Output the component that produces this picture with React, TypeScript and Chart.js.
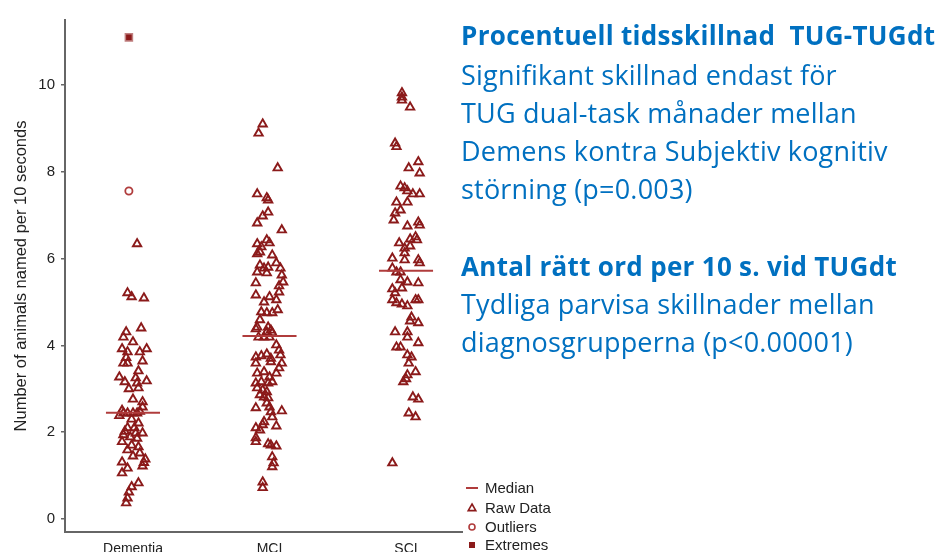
import { useEffect, useRef } from "react";
import { Chart, registerables } from "chart.js";

Chart.register(...registerables);

const categories = ["Dementia", "MCI", "SCI"];
const yTickValues = [0, 2, 4, 6, 8, 10];
const medians = [2.45, 4.22, 5.72];

const dementiaValues = [6.34, 5.21, 5.12, 5.09, 4.4, 4.31, 4.19, 4.08, 3.92, 3.85, 3.85, 3.92, 3.59, 3.59, 3.64, 3.41, 3.27, 3.16, 3.18, 3.25, 3.0, 3.02, 3.13, 2.76, 2.7, 2.58, 2.5, 2.44, 2.44, 2.44, 2.44, 2.48, 2.38, 2.21, 2.1, 2.1, 1.98, 1.94, 1.89, 1.86, 1.78, 1.7, 1.66, 1.59, 1.52, 1.45, 1.38, 1.31, 1.22, 1.17, 1.06, 0.83, 0.74, 0.62, 0.48, 0.37, 2.02, 1.98, 2.3, 3.72, 1.3];
const dementiaJitter = [0.03, -0.04, -0.01, 0.08, 0.06, -0.05, -0.07, 0, -0.08, -0.04, 0.05, 0.1, -0.07, -0.04, 0.07, 0.04, -0.1, -0.06, 0.1, 0.02, -0.03, 0.04, 0.03, 0, 0.07, 0.07, -0.08, -0.07, -0.04, 0, 0.03, 0.05, -0.1, 0.04, -0.04, 0.01, 0.07, -0.07, -0.02, 0.03, -0.08, -0.01, 0.04, -0.04, 0.05, 0, 0.09, -0.08, 0.07, -0.04, -0.08, 0.04, -0.01, -0.03, -0.04, -0.05, -0.06, 0.02, -0.01, -0.05, 0.08];

const mciValues = [9.1, 8.89, 8.09, 7.49, 7.4, 7.35, 7.07, 6.98, 6.82, 6.66, 6.43, 6.34, 6.36, 6.27, 6.15, 6.11, 6.08, 5.9, 5.85, 5.78, 5.8, 5.78, 5.69, 5.67, 5.62, 5.46, 5.44, 5.37, 5.23, 5.16, 5.12, 5.05, 5.0, 4.77, 4.75, 4.75, 4.82, 4.59, 4.42, 4.42, 4.35, 4.29, 4.38, 4.31, 4.19, 4.19, 4.19, 4.01, 3.89, 3.78, 3.73, 3.76, 3.8, 3.7, 3.59, 3.62, 3.59, 3.48, 3.36, 3.36, 3.39, 3.27, 3.13, 3.16, 3.13, 3.16, 3.02, 2.97, 2.93, 2.86, 2.81, 2.79, 2.67, 2.58, 2.47, 2.56, 2.49, 2.35, 2.24, 2.17, 2.14, 2.1, 2.05, 1.87, 1.78, 1.73, 1.7, 1.68, 1.43, 1.29, 1.2, 0.85, 0.72];
const mciJitter = [-0.05, -0.08, 0.06, -0.09, -0.02, -0.01, -0.01, -0.05, -0.09, 0.09, -0.02, -0.09, 0, -0.06, -0.07, -0.09, 0.02, 0.05, -0.07, -0.04, -0.01, 0.08, -0.09, -0.02, 0.09, 0.1, -0.1, 0.07, 0.07, -0.1, 0, 0.05, -0.04, -0.06, -0.02, 0.02, 0.06, -0.07, -0.09, -0.01, 0.01, 0.02, -0.1, -0.02, -0.08, -0.04, 0, 0.05, 0.07, 0.08, -0.1, -0.06, -0.02, 0.01, -0.1, 0.01, 0.09, 0.07, 0.05, -0.09, -0.04, 0, -0.1, -0.06, -0.01, 0.02, -0.09, -0.05, -0.02, -0.07, -0.04, -0.01, -0.02, 0, 0.01, -0.1, 0.09, 0.02, -0.04, -0.05, 0.05, -0.1, -0.07, -0.1, -0.1, -0.01, 0.01, 0.05, 0.02, 0.03, 0.02, -0.05, -0.05];

const sciValues = [9.82, 9.72, 9.65, 9.49, 8.66, 8.58, 8.23, 8.09, 7.97, 7.67, 7.63, 7.56, 7.49, 7.49, 7.3, 7.3, 7.12, 7.05, 6.89, 6.84, 6.77, 6.75, 6.5, 6.43, 6.45, 6.36, 6.24, 6.29, 6.13, 6.01, 5.97, 5.97, 5.9, 5.78, 5.69, 5.69, 5.51, 5.46, 5.44, 5.3, 5.32, 5.21, 5.05, 4.98, 4.95, 4.91, 5.05, 5.05, 4.65, 4.56, 4.52, 4.31, 4.31, 4.19, 4.06, 3.96, 3.96, 3.78, 3.73, 3.59, 3.39, 3.32, 3.23, 3.16, 2.81, 2.76, 2.44, 2.35, 1.29];
const sciJitter = [-0.03, -0.03, -0.03, 0.03, -0.08, -0.07, 0.09, 0.02, 0.1, -0.04, -0.01, 0.01, 0.05, 0.1, -0.07, 0.01, -0.04, -0.08, -0.09, 0.09, 0.1, 0.01, 0.07, 0.08, 0.03, -0.05, -0.01, 0.03, -0.01, -0.1, -0.01, 0.09, 0.1, -0.1, -0.07, -0.04, -0.04, 0.01, 0.09, -0.1, -0.03, -0.08, -0.1, -0.07, -0.03, 0.01, 0.07, 0.09, 0.04, 0.03, 0.09, -0.08, 0.01, 0.01, 0.09, -0.07, -0.04, 0.01, 0.04, 0.02, 0.07, 0.01, 0, -0.02, 0.05, 0.09, 0.02, 0.07, -0.1];

const outlierGroups = [0];
const outlierValues = [7.56];
const outlierJitter = [-0.03];

const extremeGroups = [0];
const extremeValues = [11.1];
const extremeJitter = [-0.03];

const legendLabels = ["Median", "Raw Data", "Outliers", "Extremes"];

const yTitle = "Number of animals named per 10 seconds";

const textBlock1Title = "Procentuell tidsskillnad\u00a0\u00a0TUG-TUGdt";
const textBlock1Lines = [
  "Signifikant skillnad endast för",
  "TUG dual-task månader mellan",
  "Demens kontra Subjektiv kognitiv",
  "störning (p=0.003)",
];
const textBlock2Title = "Antal rätt ord per 10 s. vid TUGdt";
const textBlock2Lines = [
  "Tydliga parvisa skillnader mellan",
  "diagnosgrupperna (p<0.00001)",
];

const DARK_RED = "#8b1a1a";
const MEDIAN_RED = "#b03c3c";
const AXIS_GRAY = "#666666";
const BLUE = "#0070c0";

export default function App() {
  const canvasRef = useRef<HTMLCanvasElement>(null);

  useEffect(() => {
    const canvas = canvasRef.current;
    if (!canvas) return;

    const toPoints = (group: number, jitter: number[], values: number[]) =>
      values.map((v, i) => ({ x: group + 1 + jitter[i], y: v }));

    const rawDatasets = [
      toPoints(0, dementiaJitter, dementiaValues),
      toPoints(1, mciJitter, mciValues),
      toPoints(2, sciJitter, sciValues),
    ].map((pts) => ({
      type: "scatter" as const,
      data: pts,
      pointStyle: "triangle",
      pointRadius: 4.8,
      pointBorderWidth: 1.9,
      borderColor: DARK_RED,
      backgroundColor: "rgba(255,255,255,0)",
      order: 2,
    }));

    const medianDatasets = medians.map((m, i) => ({
      type: "line" as const,
      data: [
        { x: i + 1 - 0.198, y: m },
        { x: i + 1 + 0.198, y: m },
      ],
      borderColor: MEDIAN_RED,
      borderWidth: 2,
      pointRadius: 0,
      fill: false,
      order: 1,
    }));

    const outlierDataset = {
      type: "scatter" as const,
      data: outlierValues.map((v, i) => ({ x: outlierGroups[i] + 1 + outlierJitter[i], y: v })),
      pointStyle: "circle",
      pointRadius: 3.6,
      pointBorderWidth: 1.8,
      borderColor: MEDIAN_RED,
      backgroundColor: "rgba(255,255,255,0)",
      order: 2,
    };

    const extremeDataset = {
      type: "scatter" as const,
      data: extremeValues.map((v, i) => ({ x: extremeGroups[i] + 1 + extremeJitter[i], y: v })),
      pointStyle: "rect",
      pointRadius: 5,
      pointBorderWidth: 1.5,
      borderColor: "#c08080",
      backgroundColor: DARK_RED,
      order: 2,
    };

    const legendPlugin = {
      id: "customLegend",
      afterDraw(chart: any) {
        const ctx = chart.ctx as CanvasRenderingContext2D;
        const x0 = 472;
        const ys = [488, 508, 527, 545];
        ctx.save();
        ctx.strokeStyle = MEDIAN_RED;
        ctx.lineWidth = 2;
        ctx.beginPath();
        ctx.moveTo(x0 - 6, ys[0]);
        ctx.lineTo(x0 + 6, ys[0]);
        ctx.stroke();
        ctx.strokeStyle = DARK_RED;
        ctx.lineWidth = 1.6;
        ctx.beginPath();
        ctx.moveTo(x0, ys[1] - 4);
        ctx.lineTo(x0 + 3.8, ys[1] + 2.6);
        ctx.lineTo(x0 - 3.8, ys[1] + 2.6);
        ctx.closePath();
        ctx.stroke();
        ctx.strokeStyle = MEDIAN_RED;
        ctx.beginPath();
        ctx.arc(x0, ys[2], 3, 0, Math.PI * 2);
        ctx.stroke();
        ctx.fillStyle = DARK_RED;
        ctx.fillRect(x0 - 3, ys[3] - 3, 6, 6);
        ctx.fillStyle = "#222";
        ctx.font = '15px "Liberation Sans", Arial, sans-serif';
        ctx.textBaseline = "middle";
        ctx.textAlign = "left";
        legendLabels.forEach((t, i) => ctx.fillText(t, x0 + 13, ys[i] + 1));
        ctx.restore();
      },
    };

    const chart = new Chart(canvas, {
      type: "scatter",
      data: {
        datasets: [...medianDatasets, ...rawDatasets, outlierDataset, extremeDataset] as any,
      },
      options: {
        animation: false,
        responsive: false,
        maintainAspectRatio: false,
        devicePixelRatio: 1,
        layout: { padding: { left: 0, top: 20, right: 480, bottom: 0 } },
        plugins: {
          legend: { display: false },
          tooltip: { enabled: false },
        },
        scales: {
          x: {
            type: "linear",
            min: 0.502,
            max: 3.41,
            afterBuildTicks: (s: any) => {
              s.ticks = categories.map((_, i) => ({ value: i + 1 }));
            },
            afterFit: (s: any) => {
              s.height = 20;
            },
            ticks: {
              autoSkip: false,
              maxRotation: 0,
              padding: 9,
              color: "#222",
              font: { family: '"Liberation Sans", Arial, sans-serif', size: 14 },
              callback: (v: any) => categories[Math.round(Number(v)) - 1] ?? "",
            },
            grid: { display: true, drawOnChartArea: false, drawTicks: false },
            border: { display: true, color: AXIS_GRAY, width: 2 },
          },
          y: {
            type: "linear",
            min: -0.3,
            max: 11.5,
            afterBuildTicks: (s: any) => {
              s.ticks = yTickValues.map((v) => ({ value: v }));
            },
            afterFit: (s: any) => {
              s.width = 65;
            },
            ticks: {
              padding: 6,
              color: "#222",
              font: { family: '"Liberation Sans", Arial, sans-serif', size: 15 },
            },
            grid: {
              display: true,
              drawOnChartArea: false,
              drawTicks: true,
              tickLength: 4,
              color: AXIS_GRAY,
              lineWidth: 1.5,
            },
            border: { display: true, color: AXIS_GRAY, width: 2 },
            title: {
              display: true,
              text: yTitle,
              color: "#222",
              font: { family: '"Liberation Sans", Arial, sans-serif', size: 16.5 },
              padding: { top: 12, bottom: 0 },
            },
          },
        },
      },
      plugins: [legendPlugin],
    });

    return () => chart.destroy();
  }, []);

  const lineStyle = (top: number, bold: boolean): any => ({
    position: "absolute",
    left: 461,
    top,
    whiteSpace: "nowrap",
    fontFamily: '"Open Sans", Lato, sans-serif',
    fontSize: bold ? 26 : 27,
    lineHeight: "30px",
    fontWeight: bold ? 700 : 400,
    letterSpacing: bold ? "0.3px" : "0.2px",
    color: BLUE,
  });

  const base1 = [85, 123, 161, 199];
  const base2 = [314, 352];
  const off = 25.5;

  return (
    <div style={{ position: "fixed", left: 0, top: 0, width: 942, height: 552, background: "#fff", overflow: "hidden" }}>
      <canvas ref={canvasRef} width={942} height={552} style={{ position: "absolute", left: 0, top: 0, width: 942, height: 552 }} />
      <div style={lineStyle(45 - off, true)}>{textBlock1Title}</div>
      {textBlock1Lines.map((t, i) => (
        <div key={"a" + i} style={lineStyle(base1[i] - off, false)}>{t}</div>
      ))}
      <div style={lineStyle(276 - off, true)}>{textBlock2Title}</div>
      {textBlock2Lines.map((t, i) => (
        <div key={"b" + i} style={lineStyle(base2[i] - off, false)}>{t}</div>
      ))}
    </div>
  );
}
